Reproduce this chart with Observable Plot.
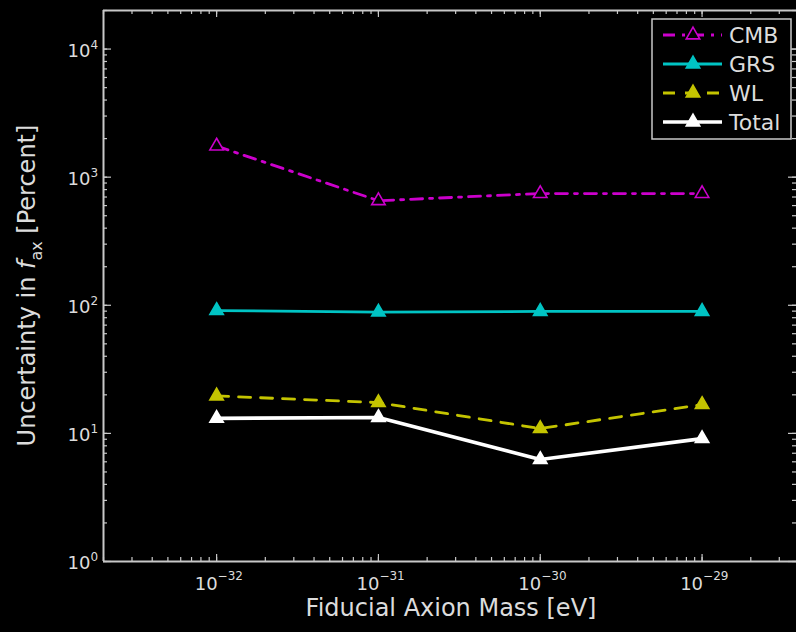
<!DOCTYPE html>
<html><head><meta charset="utf-8">
<script src="https://cdn.jsdelivr.net/npm/d3@7"></script>
<script src="https://cdn.jsdelivr.net/npm/@observablehq/plot@0.6"></script>
<style>
html,body{margin:0;padding:0;background:#000;}
#chart{width:796px;height:632px;overflow:hidden;background:#000;}
</style></head><body><div id="chart"></div>
<script>
// ---- data ----
const masses = [1e-32, 1e-31, 1e-30, 1e-29];
const seriesNames = ["CMB", "GRS", "WL", "Total"];
const cmbValues = [1750, 655, 745, 745];
const grsValues = [91, 88.5, 89.5, 89.5];
const wlValues = [19.6, 17.4, 10.9, 16.8];
const totalValues = [13.1, 13.3, 6.25, 9.1];
const xTickExponents = [-32, -31, -30, -29];
const yTickExponents = [0, 1, 2, 3, 4];
const xLabel = "Fiducial Axion Mass [eV]";
const yLabelParts = ["Uncertainty in ", "f", "ax", " [Percent]"];

// ---- styles ----
const seriesValues = [cmbValues, grsValues, wlValues, totalValues];
const colors = ["#cc00cc", "#00c4c4", "#c4c400", "#ffffff"];
const fills = ["#000000", "#00c4c4", "#c4c400", "#ffffff"];
const dashes = ["12,7,3,7", null, "12,10", null];
const widths = [2.8, 2.8, 2.8, 3.6];

const xDomain = [2e-33, 4e-29];
const yDomain = [1, 2e4];
const W = 796, H = 632, mL = 103, mR = 0, mT = 10, mB = 71;
const plotH = H - mT - mB, plotW = W - mL - mR;
const axisColor = "#c8c8c8";
const textColor = "#dcdcdc";

const xAll = d3.scaleLog().domain(xDomain).ticks();
const yAll = d3.scaleLog().domain(yDomain).ticks();
const xMajor = xTickExponents.map(e => Math.pow(10, e));
const yMajor = yTickExponents.map(e => Math.pow(10, e));

const rows = [];
seriesNames.forEach((s, i) => masses.forEach((m, j) => rows.push({series: s, mass: m, value: seriesValues[i][j]})));

const sup = e => (e < 0 ? "\u2212" : "") + Math.abs(e);

const seriesMarks = [];
seriesNames.forEach((s, i) => {
  const d = rows.filter(r => r.series === s);
  seriesMarks.push(Plot.line(d, {x: "mass", y: "value", stroke: colors[i], strokeWidth: widths[i], strokeDasharray: dashes[i] || undefined}));
  seriesMarks.push(Plot.dot(d, {x: "mass", y: "value", symbol: "triangle", r: 5, stroke: colors[i], fill: fills[i], strokeWidth: 1.6}));
});

const tk = {stroke: axisColor, strokeWidth: 1.2};
const chart = Plot.plot({
  width: W, height: H,
  marginLeft: mL, marginRight: mR, marginTop: mT, marginBottom: mB,
  style: {background: "#000", color: textColor, fontFamily: "'DejaVu Sans', sans-serif", overflow: "visible"},
  x: {type: "log", domain: xDomain, range: [mL, 799], axis: null},
  y: {type: "log", domain: yDomain, axis: null},
  marks: [
    // minor ticks (all four sides)
    Plot.ruleX(xAll, {x: d => d, insetTop: plotH - 4, ...tk}),
    Plot.ruleX(xAll, {x: d => d, insetBottom: plotH - 4, ...tk}),
    Plot.ruleY(yAll, {y: d => d, insetRight: plotW - 4, ...tk}),
    Plot.ruleY(yAll, {y: d => d, insetLeft: plotW - 4, ...tk}),
    // major ticks
    Plot.ruleX(xMajor, {x: d => d, insetTop: plotH - 7, ...tk}),
    Plot.ruleX(xMajor, {x: d => d, insetBottom: plotH - 7, ...tk}),
    Plot.ruleY(yMajor, {y: d => d, insetRight: plotW - 8, ...tk}),
    Plot.ruleY(yMajor, {y: d => d, insetLeft: plotW - 8, ...tk}),
    // spines
    Plot.ruleX([xDomain[0]], {x: d => d, stroke: axisColor, strokeWidth: 2}),
    Plot.ruleY(yDomain, {y: d => d, stroke: axisColor, strokeWidth: 2}),
    // series
    ...seriesMarks,
    // x tick labels
    Plot.text(xTickExponents, {x: e => Math.pow(10, e), frameAnchor: "bottom", text: () => "10", textAnchor: "end", dx: 1, dy: 28, fontSize: 18, fill: textColor}),
    Plot.text(xTickExponents, {x: e => Math.pow(10, e), frameAnchor: "bottom", text: e => sup(e), textAnchor: "start", dx: 1, dy: 18, fontSize: 12, fill: textColor}),
    // y tick labels
    Plot.text(yTickExponents, {y: e => Math.pow(10, e), frameAnchor: "left", text: () => "10", textAnchor: "end", dx: -13, dy: 2, fontSize: 18, fill: textColor}),
    Plot.text(yTickExponents, {y: e => Math.pow(10, e), frameAnchor: "left", text: e => sup(e), textAnchor: "start", dx: -13, dy: -4, fontSize: 12, fill: textColor}),
    // x axis title
    Plot.text([xLabel], {frameAnchor: "bottom", text: d => d, dx: 1, dy: 54, fontSize: 24, fill: textColor})
  ]
});
document.getElementById("chart").appendChild(chart);

// y axis title with italic f and subscript
const svg = d3.select(chart);
const yt = svg.append("text")
  .attr("transform", `translate(35,${mT + plotH / 2}) rotate(-90)`)
  .attr("text-anchor", "middle").attr("font-size", 24).attr("fill", textColor)
  .attr("font-family", "'DejaVu Sans', sans-serif");
yt.append("tspan").text(yLabelParts[0]);
yt.append("tspan").attr("font-style", "italic").text(yLabelParts[1]);
yt.append("tspan").attr("font-size", 16).attr("dy", 7).text(yLabelParts[2]);
yt.append("tspan").attr("dy", -7).text(yLabelParts[3]);

// legend (upper right, inside frame)
const lg = svg.append("g").attr("font-family", "'DejaVu Sans', sans-serif").attr("text-anchor", "start");
lg.append("rect").attr("x", 652).attr("y", 19).attr("width", 139).attr("height", 120)
  .attr("fill", "#000").attr("stroke", axisColor).attr("stroke-width", 1.5);
const tri = d3.symbol(d3.symbolTriangle, Math.PI * 25)();
seriesNames.forEach((s, i) => {
  const yy = 35 + i * 29;
  lg.append("line").attr("x1", 663).attr("x2", 722).attr("y1", yy).attr("y2", yy)
    .attr("stroke", colors[i]).attr("stroke-width", widths[i])
    .attr("stroke-dasharray", dashes[i] || null);
  lg.append("path").attr("d", tri).attr("transform", `translate(693,${yy})`)
    .attr("stroke", colors[i]).attr("fill", fills[i]).attr("stroke-width", 1.6);
  lg.append("text").attr("x", 729).attr("y", yy).attr("dy", "0.36em")
    .attr("font-size", 22).attr("fill", textColor).text(s);
});
</script>
</body></html>
